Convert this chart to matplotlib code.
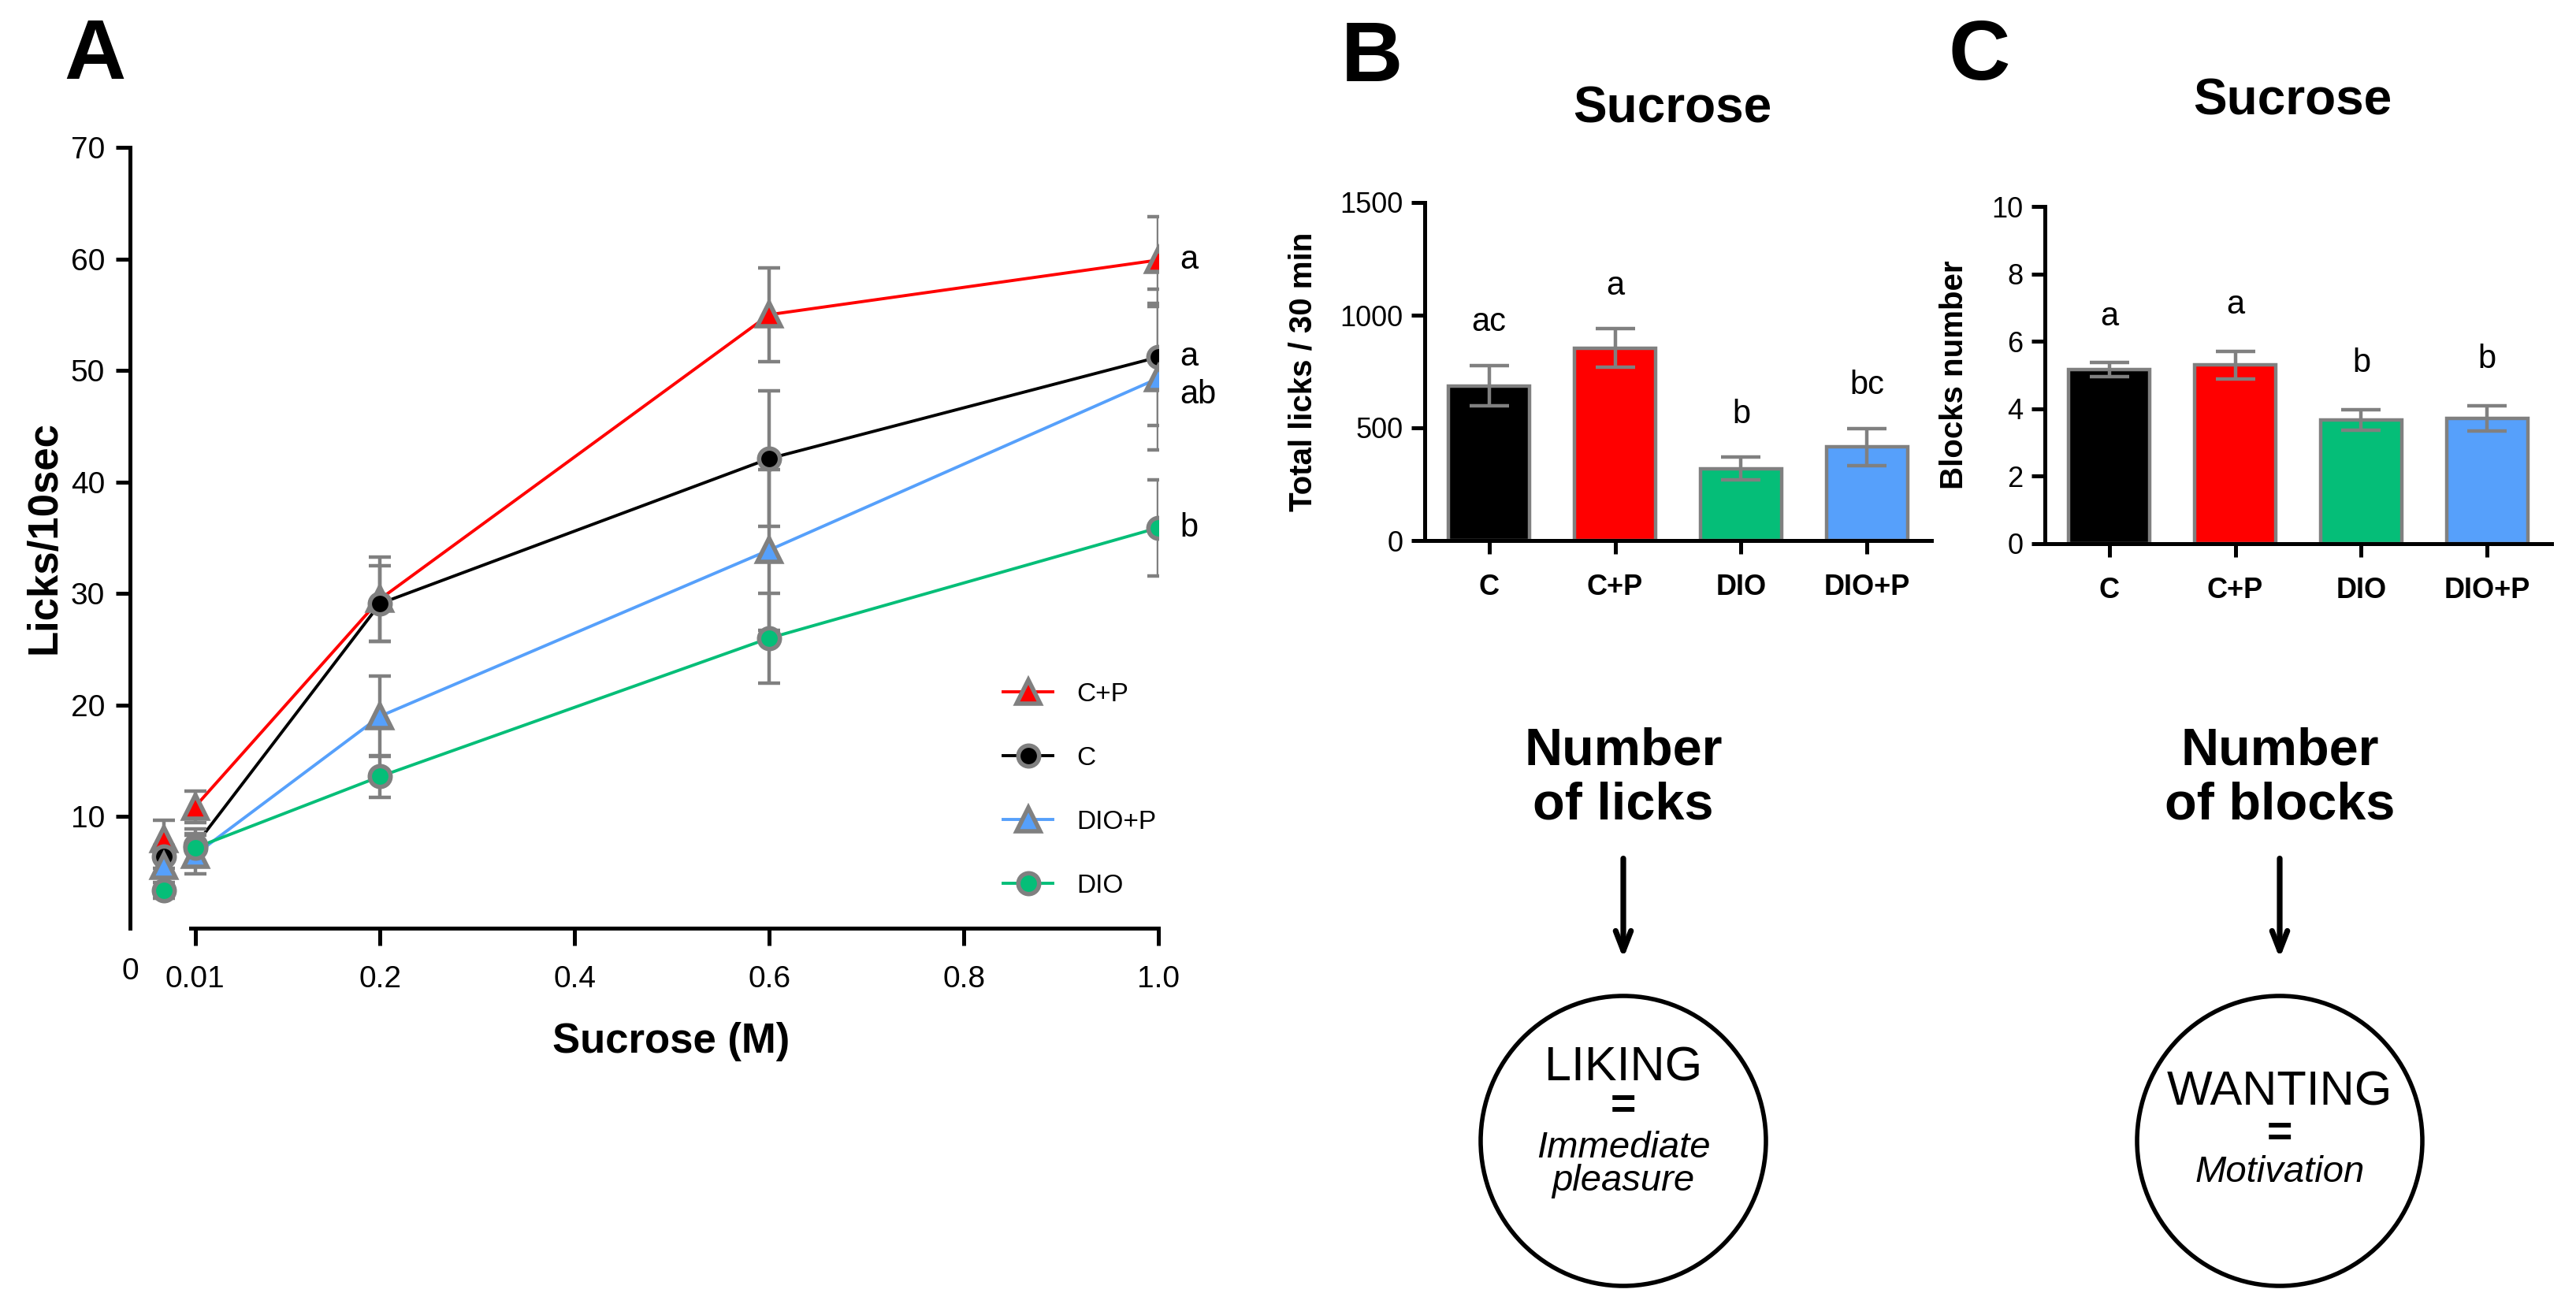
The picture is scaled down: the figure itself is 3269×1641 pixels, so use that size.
import matplotlib
matplotlib.use("Agg")
import matplotlib.pyplot as plt
from matplotlib import font_manager
from matplotlib.patches import Ellipse

################## DATEN ##################
# Panel A: Lickrate je Konzentration (Mittelwert +- SEM)
conc = [0, 0.01, 0.2, 0.6, 1.0]
cp_mean = [8.0, 10.9, 29.5, 55.0, 59.9]
cp_sem = [1.7, 1.4, 3.8, 4.2, 3.9]
c_mean = [6.4, 7.4, 29.1, 42.1, 51.2]
c_sem = [1.0, 1.5, 3.4, 6.1, 6.1]
diop_mean = [5.6, 6.6, 19.0, 33.9, 49.3]
diop_sem = [0.9, 1.75, 3.6, 7.2, 6.4]
dio_mean = [3.4, 7.2, 13.6, 26.0, 35.9]
dio_sem = [0.7, 1.3, 1.9, 4.0, 4.3]
letters_a = ["a", "a", "ab", "b"]
x_ticks = [0.01, 0.2, 0.4, 0.6, 0.8, 1.0]
x_ticklabels = ["0.01", "0.2", "0.4", "0.6", "0.8", "1.0"]

# Panel B / C: Balken
groups = ["C", "C+P", "DIO", "DIO+P"]
licks_mean = [687, 854, 319, 415]
licks_sem = [90, 85, 50, 83]
licks_letters = ["ac", "a", "b", "bc"]
blocks_mean = [5.16, 5.30, 3.67, 3.71]
blocks_sem = [0.21, 0.41, 0.31, 0.38]
blocks_letters = ["a", "a", "b", "b"]

################## STIL ##################
W, H = 3269, 1641
DPI = 200
GRAY = "#808080"
RED = "#ff0000"
GREEN = "#05be78"
BLUE = "#56a0fb"
BLACK = "#000000"

names = {f.name for f in font_manager.fontManager.ttflist}
SANS = "Liberation Sans" if "Liberation Sans" in names else "DejaVu Sans"
NARROW = "Liberation Sans Narrow" if "Liberation Sans Narrow" in names else SANS
plt.rcParams["font.family"] = [SANS, "DejaVu Sans"]

SPINE_W = 1.8


def px_rect(l, t, r, b):
    # Pixelbox (oben links Ursprung) -> figure fraction
    return [l / W, 1 - b / H, (r - l) / W, (b - t) / H]


fig = plt.figure(figsize=(W / DPI, H / DPI), dpi=DPI)

################## PANEL A ##################
ax = fig.add_axes(px_rect(165, 187, 1470, 1178))
zero_pos = -0.022  # Position der 0 auf der gebrochenen Achse
xpos = [zero_pos if c == 0 else c for c in conc]

series = [
    ("C+P", cp_mean, cp_sem, RED, "^"),
    ("C", c_mean, c_sem, BLACK, "o"),
    ("DIO+P", diop_mean, diop_sem, BLUE, "^"),
    ("DIO", dio_mean, dio_sem, GREEN, "o"),
]
label_dy = [0, 0, -1.5, 0]

for i, (name, m, s, col, mk) in enumerate(series):
    ms = 10.5 if mk == "^" else 9.5
    ax.plot(xpos[1:], m[1:], color=col, lw=1.4, zorder=2)
    ax.errorbar(xpos, m, yerr=s, fmt="none", ecolor=GRAY, elinewidth=1.6,
                capsize=5, capthick=1.6, zorder=3)
    ax.plot(xpos, m, linestyle="none", marker=mk, ms=ms, mfc=col,
            mec=GRAY, mew=2.0, zorder=4)
    # Legenden-Handle
    ax.plot([], [], color=col, lw=1.4, marker=mk, ms=ms, mfc=col, mec=GRAY,
            mew=2.0, label=name)
    ax.text(xpos[-1] + 0.022, m[-1] + label_dy[i], letters_a[i], fontsize=15,
            ha="left", va="center", clip_on=False)

ax.set_xlim(-0.057, 1.0)
ax.set_ylim(0, 70)
ax.set_yticks([10, 20, 30, 40, 50, 60, 70])
ax.set_xticks(x_ticks)
ax.set_xticklabels(x_ticklabels)
ax.spines["top"].set_visible(False)
ax.spines["right"].set_visible(False)
ax.spines["left"].set_linewidth(SPINE_W)
ax.spines["bottom"].set_linewidth(SPINE_W)
ax.spines["bottom"].set_bounds(0.005, 1.0)
ax.tick_params(axis="y", length=6.5, width=SPINE_W, pad=5, labelsize=14)
ax.tick_params(axis="x", length=8, width=SPINE_W, pad=9, labelsize=14)
ax.text(-0.057, -0.055, "0", transform=ax.get_xaxis_transform(), fontsize=14,
        ha="center", va="center")
ax.set_ylabel("Licks/10sec", fontsize=19, fontweight="bold")
ax.yaxis.set_label_coords(-0.064, 0.5)
ax.set_xlabel("Sucrose (M)", fontsize=19, fontweight="bold")
ax.xaxis.set_label_coords(0.526, -0.12)
ax.legend(loc="upper left", bbox_to_anchor=(0.826, 0.345), frameon=False,
          handlelength=1.9, handletextpad=0.9, labelspacing=1.5,
          prop={"family": NARROW, "size": 12})

################## PANEL B / C ##################
bar_colors = [BLACK, RED, GREEN, BLUE]
xs = list(range(len(groups)))


def bar_panel(rect, means, sems, letters, ylim, yticks, ylabel, offset):
    bx = fig.add_axes(rect)
    bx.bar(xs, means, width=0.645, color=bar_colors, edgecolor=GRAY,
           linewidth=1.6, zorder=2)
    bx.errorbar(xs, means, yerr=sems, fmt="none", ecolor=GRAY, elinewidth=1.6,
                capsize=9, capthick=1.6, zorder=3)
    for x, m, s, t in zip(xs, means, sems, letters):
        bx.text(x, m + s + offset, t, ha="center", va="bottom", fontsize=15,
                family=NARROW)
    bx.set_xlim(-0.51, 3.51)
    bx.set_ylim(*ylim)
    bx.set_yticks(yticks)
    bx.set_xticks(xs)
    bx.set_xticklabels(groups, fontweight="bold", family=NARROW)
    for lab in bx.get_yticklabels():
        lab.set_family(NARROW)
    bx.spines["top"].set_visible(False)
    bx.spines["right"].set_visible(False)
    bx.spines["left"].set_linewidth(SPINE_W)
    bx.spines["bottom"].set_linewidth(SPINE_W)
    bx.tick_params(axis="y", length=6, width=SPINE_W, pad=4, labelsize=13)
    bx.tick_params(axis="x", length=6, width=SPINE_W, pad=9, labelsize=13)
    bx.set_ylabel(ylabel, fontsize=14.5, fontweight="bold", labelpad=10)
    return bx


bar_panel(px_rect(1808, 257, 2451, 686), licks_mean, licks_sem, licks_letters,
          (0, 1500), [0, 500, 1000, 1500], "Total licks / 30 min", 120)
bar_panel(px_rect(2595, 262, 3238, 690), blocks_mean, blocks_sem,
          blocks_letters, (0, 10), [0, 2, 4, 6, 8, 10], "Blocks number", 0.9)

################## BESCHRIFTUNG / SCHEMA ##################
ov = fig.add_axes([0, 0, 1, 1])
ov.set_xlim(0, W)
ov.set_ylim(H, 0)
ov.axis("off")

for lbl, x, y in [("A", 120, 72), ("B", 1741, 75), ("C", 2512, 73)]:
    ov.text(x, y, lbl, fontsize=39, fontweight="bold", ha="center",
            va="center")

# Titel ueber den Balkendiagrammen
for x, y in [(2122, 138), (2909, 128)]:
    ov.text(x, y, "Sucrose", fontsize=23, fontweight="bold", family=NARROW,
            ha="center", va="center")

schema = [
    (2060, "Number\nof licks", "LIKING", "Immediate\npleasure"),
    (2893, "Number\nof blocks", "WANTING", "Motivation"),
]
for x, head, word, meaning in schema:
    ov.text(x, 988, head, fontsize=24, fontweight="bold", family=NARROW,
            ha="center", va="center", linespacing=1.15)
    ov.annotate("", xy=(x, 1222), xytext=(x, 1084),
                arrowprops=dict(arrowstyle="->,head_length=0.9,head_width=0.35",
                                lw=2.6, color="black"))
    ov.add_patch(Ellipse((x, 1448), 362, 368, fill=False, lw=2.0,
                         edgecolor="black"))
    if "\n" in meaning:
        ov.text(x, 1356, word, fontsize=22, family=NARROW, ha="center",
                va="center")
        ov.text(x, 1405, "=", fontsize=20, fontweight="bold", ha="center",
                va="center")
        ov.text(x, 1478, meaning, fontsize=17, style="italic", family=NARROW,
                ha="center", va="center", linespacing=0.95)
    else:
        ov.text(x, 1387, word, fontsize=22, family=NARROW, ha="center",
                va="center")
        ov.text(x, 1440, "=", fontsize=20, fontweight="bold", ha="center",
                va="center")
        ov.text(x, 1488, meaning, fontsize=17, style="italic", family=NARROW,
                ha="center", va="center")

fig.savefig("out.png", dpi=DPI)
